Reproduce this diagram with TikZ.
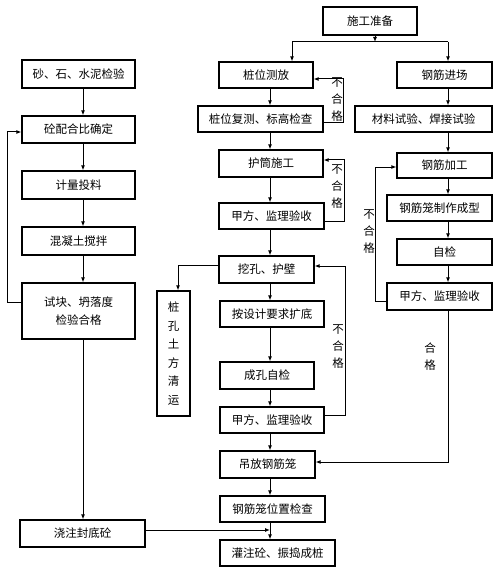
\documentclass[tikz,border=0pt]{standalone}
\usepackage{fontspec}
\newfontfamily\cjk{Noto Sans CJK SC}
\usetikzlibrary{arrows.meta}

\begin{document}
\begin{tikzpicture}[x=1pt,y=-1pt,every node/.style={font=\cjk\fontsize{11.5}{14}\selectfont}]
  \tikzstyle{box} = [rectangle, draw, line width=1.2pt, minimum height=26,
      inner sep=0pt, align=center]
  \tikzstyle{arrow} = [-{Latex[length=5pt,width=4pt]}, line width=1pt]
  \tikzstyle{link} = [line width=1pt]
  \tikzstyle{vlabel} = [align=center, inner sep=0pt,
      font=\cjk\fontsize{11.5}{17}\selectfont]

  \useasboundingbox (0,0) rectangle (500,588);

  % Three columns: left = concrete, middle = pile hole, right = steel cage.
  % The straight arrows of each column run down a fixed x (the "spine").
  \coordinate (leftspine)  at (83,0);
  \coordinate (midspine)   at (270,0);
  \coordinate (rightspine) at (448,0);

  \node (prep)      [box, minimum width=94, minimum height=28] at (370,21)    {施工准备};
  \node (locate)    [box, minimum width=94]  at (266,75)    {桩位测放};
  \node (steelin)   [box, minimum width=95]  at (444.5,75)  {钢筋进场};
  \node (recheck)   [box, minimum width=125] at (260.5,119) {桩位复测、标高检查};
  \node (steeltest) [box, minimum width=137] at (423.5,119) {材料试验、焊接试验};
  \node (casing)    [box, minimum width=104, minimum height=27] at (271,163.5) {护筒施工};
  \node (steelwork) [box, minimum width=95, minimum height=25]  at (444.5,165.5) {钢筋加工};
  \node (accept1)   [box, minimum width=105] at (271.5,216) {甲方、监理验收};
  \node (cage)      [box, minimum width=105] at (439.5,208) {钢筋笼制作成型};
  \node (selfchk)   [box, minimum width=95]  at (444.5,252) {自检};
  \node (accept3)   [box, minimum width=105, minimum height=27] at (439.5,296.5) {甲方、监理验收};
  \node (dig)       [box, minimum width=95, minimum height=27]  at (266.5,269.5) {挖孔、护壁};
  \node (spoil)     [box, minimum width=33, minimum height=125,
      font=\cjk\fontsize{11.5}{18.5}\selectfont] at (173.5,353.5) {桩\\孔\\土\\方\\清\\运};
  \node (enlarge)   [box, minimum width=104] at (272,314)   {按设计要求扩底};
  \node (holechk)   [box, minimum width=94, minimum height=27]  at (267,375.5) {成孔自检};
  \node (accept2)   [box, minimum width=104] at (272,420)   {甲方、监理验收};
  \node (lift)      [box, minimum width=95, minimum height=27]  at (267.5,464.5) {吊放钢筋笼};
  \node (cagechk)   [box, minimum width=105] at (272.5,509) {钢筋笼位置检查};
  \node (pour)      [box, minimum width=115] at (277.5,553) {灌注砼、振捣成桩};

  % left column
  \node (material)  [box, minimum width=113, minimum height=28] at (78.5,74)    {砂、石、水泥检验};
  \node (mix)       [box, minimum width=113, minimum height=27] at (78.5,129.5) {砼配合比确定};
  \node (dose)      [box, minimum width=113, minimum height=28] at (78.5,185)   {计量投料};
  \node (stir)      [box, minimum width=113, minimum height=28] at (78.5,241)   {混凝土搅拌};
  \node (slump)     [box, minimum width=113, minimum height=56,
      font=\cjk\fontsize{11.5}{18}\selectfont] at (78.5,311) {试块、坍落度\\检验合格};
  \node (seal)      [box, minimum width=125, minimum height=27] at (82.5,533.5) {浇注封底砼};

  % loop-back labels
  \node (fail1) [vlabel] at (337,100) {不\\合\\格};
  \node (fail2) [vlabel] at (337,187) {不\\合\\格};
  \node (fail4) [vlabel] at (369,232) {不\\合\\格};
  \node (fail3) [vlabel] at (338,347) {不\\合\\格};
  \node (pass)  [vlabel] at (430,357) {合\\格};

  % fork under the preparation box
  \coordinate (fork)  at (375,42);
  \coordinate (forkL) at (292,42);
  \coordinate (forkR) at (448,42);
  \draw[arrow] (prep.south -| fork) -- (fork);
  \draw[link] (forkL) -- (forkR);
  \draw[arrow] (forkL) -- (forkL |- locate.north);
  \draw[arrow] (forkR) -- (forkR |- steelin.north);

  % middle spine
  \draw[arrow] (locate.south -| midspine)  -- (recheck.north -| midspine);
  \draw[arrow] (recheck.south -| midspine) -- (casing.north -| midspine);
  \draw[arrow] (casing.south -| midspine)  -- (accept1.north -| midspine);
  \draw[arrow] (accept1.south -| midspine) -- (dig.north -| midspine);
  \draw[arrow] (dig.south -| midspine)     -- (enlarge.north -| midspine);
  \draw[arrow] (enlarge.south -| midspine) -- (holechk.north -| midspine);
  \draw[arrow] (holechk.south -| midspine) -- (accept2.north -| midspine);
  \draw[arrow] (accept2.south -| midspine) -- (lift.north -| midspine);
  \draw[arrow] (lift.south -| midspine)    -- (cagechk.north -| midspine);
  \draw[arrow] (cagechk.south -| midspine) -- (pour.north -| midspine);

  % right spine
  \draw[arrow] (steelin.south -| rightspine)   -- (steeltest.north -| rightspine);
  \draw[arrow] (steeltest.south -| rightspine) -- (steelwork.north -| rightspine);
  \draw[arrow] (steelwork.south -| rightspine) -- (cage.north -| rightspine);
  \draw[arrow] (cage.south -| rightspine)      -- (selfchk.north -| rightspine);
  \draw[arrow] (selfchk.south -| rightspine)   -- (accept3.north -| rightspine);

  % left spine
  \draw[arrow] (material.south -| leftspine) -- (mix.north -| leftspine);
  \draw[arrow] (mix.south -| leftspine)      -- (dose.north -| leftspine);
  \draw[arrow] (dose.south -| leftspine)     -- (stir.north -| leftspine);
  \draw[arrow] (stir.south -| leftspine)     -- (slump.north -| leftspine);
  \draw[arrow] (slump.south -| leftspine)    -- (seal.north -| leftspine);

  % rejected checks go back up
  \draw[arrow] ([yshift=-4pt]recheck.east) -- ++(20,0) |- ([yshift=-4pt]locate.east);
  \draw[arrow] ([yshift=-5pt]accept1.east) -- ++(20,0) |- ([yshift=3.5pt]casing.east);
  \draw[arrow] ([yshift=5pt]accept2.east)  -- ++(21,0) |- ([yshift=3.5pt]dig.east);
  \draw[arrow] ([yshift=-4.5pt]accept3.west) -- ++(-11,0) |- ([yshift=-1.5pt]steelwork.west);
  \draw[arrow] ([yshift=9pt]slump.west) -- ++(-14,0) |- ([yshift=-2.5pt]mix.west);

  % accepted cage goes to lifting; dug soil carried away
  \draw[arrow] (accept3.south -| rightspine) |- ([yshift=2.5pt]lift.east);
  \draw[arrow] ([yshift=4.5pt]dig.west) -| ([xshift=4.5pt]spoil.north);

  % bottom seal joins the spine above the final pour
  \coordinate (join) at (270,530);
  \draw[arrow] ([yshift=3.5pt]seal.east) -- (join);
\end{tikzpicture}
\end{document}
